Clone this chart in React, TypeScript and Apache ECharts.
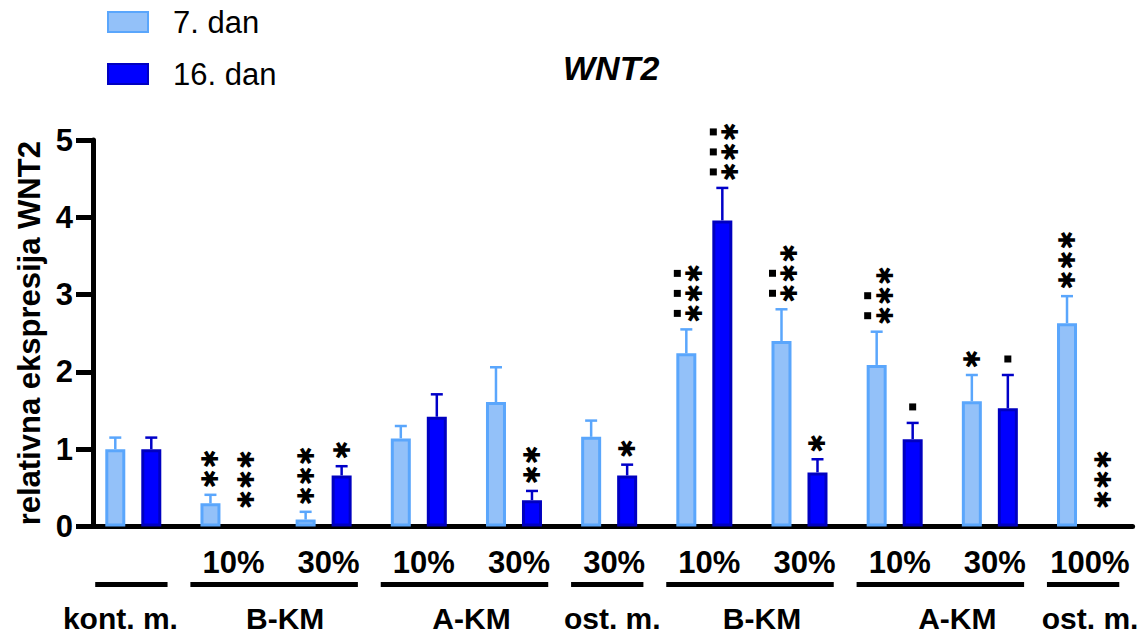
import React, { useEffect, useRef } from 'react';
import * as echarts from 'echarts';

// Tick labels under each condition (first condition is the control, no percentage)
const tickLabels = ['', '10%', '30%', '10%', '30%', '30%', '10%', '30%', '10%', '30%', '100%'];
const categoryIds = ['k', 'b10a', 'b30a', 'a10a', 'a30a', 'o30', 'b10b', 'b30b', 'a10b', 'a30b', 'o100'];

// Grouping brackets below the tick labels
const groupNames = ['kont. m.', 'B-KM', 'A-KM', 'ost. m.', 'B-KM', 'A-KM', 'ost. m.'];
const groupFirst = [0, 1, 3, 5, 6, 8, 10];
const groupLast = [0, 2, 4, 5, 7, 9, 10];

// Mean relative expression and SEM
const day7 = [1.0, 0.3, 0.09, 1.14, 1.61, 1.16, 2.24, 2.4, 2.09, 1.62, 2.63];
const day7Sem = [0.15, 0.11, 0.1, 0.16, 0.45, 0.21, 0.31, 0.41, 0.43, 0.34, 0.35];
const day16 = [1.0, 0, 0.66, 1.42, 0.34, 0.66, 3.96, 0.7, 1.13, 1.53, 0];
const day16Sem = [0.15, 0, 0.12, 0.29, 0.12, 0.14, 0.42, 0.17, 0.21, 0.43, 0];

// Significance marks, rows from top to bottom separated by "|"
const day7Marks = ['', '*|*', '*|*|*', '', '', '', '■*|■*|■*', ' *|■*|■*', ' *|■*|■*', '*', '*|*|*'];
const day16Marks = ['', '*|*|*', '*', '', '*|*', '*', '■*|■*|■*', '*', '■', '■', '*|*|*'];

const FONT = 'Liberation Sans, Arial, Helvetica, sans-serif';
const LIGHT_FILL = '#93c1f9';
const LIGHT_EDGE = '#5aa6fc';
const DARK_FILL = '#0000ff';
const DARK_EDGE = '#0000c0';
const BAR_W = 20;
const HALF_STEP = 18;
const ROW_STEP = 20;
// horizontal nudge of each group caption relative to its bracket
const captionNudge = [-11, 11, 7, 5, 12, 17, 7];

function barData(values: number[]) {
  return values.map((v) => (v === 0 ? { value: v, itemStyle: { borderWidth: 0 } } : v));
}

function star(x: number, y: number) {
  return {
    type: 'text',
    x,
    y,
    rotation: Math.PI / 2,
    style: {
      text: '✱',
      fontSize: 23,
      fontFamily: 'DejaVu Sans',
      fill: '#000',
      align: 'center',
      verticalAlign: 'middle',
    },
  };
}

function errorSeries(values: number[], sems: number[], marks: string[], color: string, offset: number) {
  return {
    type: 'custom',
    silent: true,
    clip: false,
    z: 5,
    data: values.map((v, i) => [i, v]),
    encode: { x: 0, y: 1 },
    renderItem: (params: any, api: any) => {
      const i = params.dataIndex;
      const v = values[i];
      const s = sems[i];
      const base = api.coord([i, v]);
      const cx = base[0] + offset;
      const yv = base[1];
      const yTop = api.coord([i, v + s])[1];
      const y0 = api.coord([i, 0])[1];
      const children: any[] = [];
      if (s > 0) {
        children.push({
          type: 'line',
          shape: { x1: cx, y1: yv, x2: cx, y2: yTop },
          style: { stroke: color, lineWidth: 2.5 },
        });
        children.push({
          type: 'line',
          shape: { x1: cx - 6, y1: yTop, x2: cx + 6, y2: yTop },
          style: { stroke: color, lineWidth: 2.5 },
        });
      }
      const mark = marks[i];
      if (mark) {
        const baseY = Math.min(yTop - 16, y0 - 27);
        const rows = mark.split('|');
        const n = rows.length;
        const twoCols = rows.some((r) => r.length === 2);
        const starX = twoCols ? cx + 8 : cx;
        const squareX = twoCols ? cx - 9 : cx;
        rows.forEach((row, r) => {
          const rowY = baseY - (n - 1 - r) * ROW_STEP;
          if (row.includes('*')) children.push(star(starX, rowY));
          if (row.includes('■')) {
            children.push({
              type: 'rect',
              shape: { x: squareX - 3.5, y: rowY - 3.5, width: 7, height: 7 },
              style: { fill: '#000' },
            });
          }
        });
      }
      return { type: 'group', children };
    },
  };
}

export default function App() {
  const ref = useRef<HTMLDivElement>(null);

  useEffect(() => {
    if (!ref.current) return;
    const chart = echarts.init(ref.current, undefined, { renderer: 'svg' });
    chart.setOption({
      animation: false,
      backgroundColor: '#fff',
      title: {
        text: 'WNT2',
        left: 563,
        top: 51,
        padding: 0,
        textStyle: { fontSize: 34, fontWeight: 'bold', fontStyle: 'italic', color: '#000', fontFamily: FONT },
      },
      legend: {
        data: ['7. dan', '16. dan'],
        orient: 'vertical',
        left: 107,
        top: 6,
        padding: 0,
        icon: 'rect',
        itemWidth: 40,
        itemHeight: 20,
        itemGap: 20,
        textStyle: { fontSize: 31, lineHeight: 32, color: '#000', fontFamily: FONT, padding: [0, 0, 0, 20] },
      },
      grid: { left: 85.7, top: 140, width: 1046.9, height: 386.5, containLabel: false },
      xAxis: {
        type: 'category',
        data: categoryIds,
        axisLine: { lineStyle: { color: '#000', width: 5 } },
        axisTick: { alignWithLabel: true, length: 17, lineStyle: { color: '#000', width: 4 } },
        axisLabel: {
          interval: 0,
          formatter: (_v: string, i: number) => tickLabels[i],
          fontSize: 31,
          fontWeight: 'bold',
          color: '#000',
          fontFamily: FONT,
          margin: 20,
          padding: [0, 0, 0, 10],
        },
        splitLine: { show: false },
      },
      yAxis: {
        type: 'value',
        min: 0,
        max: 5,
        interval: 1,
        offset: -7.3,
        name: 'relativna ekspresija WNT2',
        nameLocation: 'middle',
        nameGap: 42,
        nameTextStyle: { fontSize: 31, fontWeight: 'bold', color: '#000', fontFamily: FONT },
        axisLine: { show: true, lineStyle: { color: '#000', width: 5 } },
        axisTick: { show: true, length: 17, lineStyle: { color: '#000', width: 5 } },
        axisLabel: { fontSize: 31, fontWeight: 'bold', color: '#000', fontFamily: FONT, margin: 20 },
        splitLine: { show: false },
      },
      series: [
        {
          name: '7. dan',
          type: 'bar',
          data: barData(day7),
          barWidth: BAR_W,
          barGap: '80%',
          itemStyle: { color: LIGHT_FILL, borderColor: LIGHT_EDGE, borderWidth: 3 },
        },
        {
          name: '16. dan',
          type: 'bar',
          data: barData(day16),
          barWidth: BAR_W,
          itemStyle: { color: DARK_FILL, borderColor: DARK_EDGE, borderWidth: 3 },
        },
        errorSeries(day7, day7Sem, day7Marks, LIGHT_EDGE, -HALF_STEP),
        errorSeries(day16, day16Sem, day16Marks, '#0000c8', HALF_STEP),
        {
          type: 'custom',
          silent: true,
          clip: false,
          data: groupFirst.map((f) => [f, 0]),
          encode: { x: 0, y: 1 },
          renderItem: (params: any, api: any) => {
            const k = params.dataIndex;
            const band = api.size([1, 0])[0];
            const a = api.coord([groupFirst[k], 0]);
            const b = api.coord([groupLast[k], 0]);
            const x1 = a[0] - 0.4 * band;
            const x2 = b[0] + 0.36 * band;
            const y0 = a[1];
            return {
              type: 'group',
              children: [
                {
                  type: 'line',
                  shape: { x1, y1: y0 + 58, x2, y2: y0 + 58 },
                  style: { stroke: '#000', lineWidth: 5 },
                },
                {
                  type: 'text',
                  x: (x1 + x2) / 2 + captionNudge[k],
                  y: y0 + 92,
                  style: {
                    text: groupNames[k],
                    fontSize: 30,
                    lineHeight: 30,
                    fontWeight: 'bold',
                    fontFamily: FONT,
                    fill: '#000',
                    align: 'center',
                    verticalAlign: 'middle',
                  },
                },
              ],
            };
          },
        },
      ],
    });
    return () => chart.dispose();
  }, []);

  return (
    <div
      ref={ref}
      style={{ position: 'fixed', left: 0, top: 0, width: 1148, height: 634, background: '#fff' }}
    />
  );
}
